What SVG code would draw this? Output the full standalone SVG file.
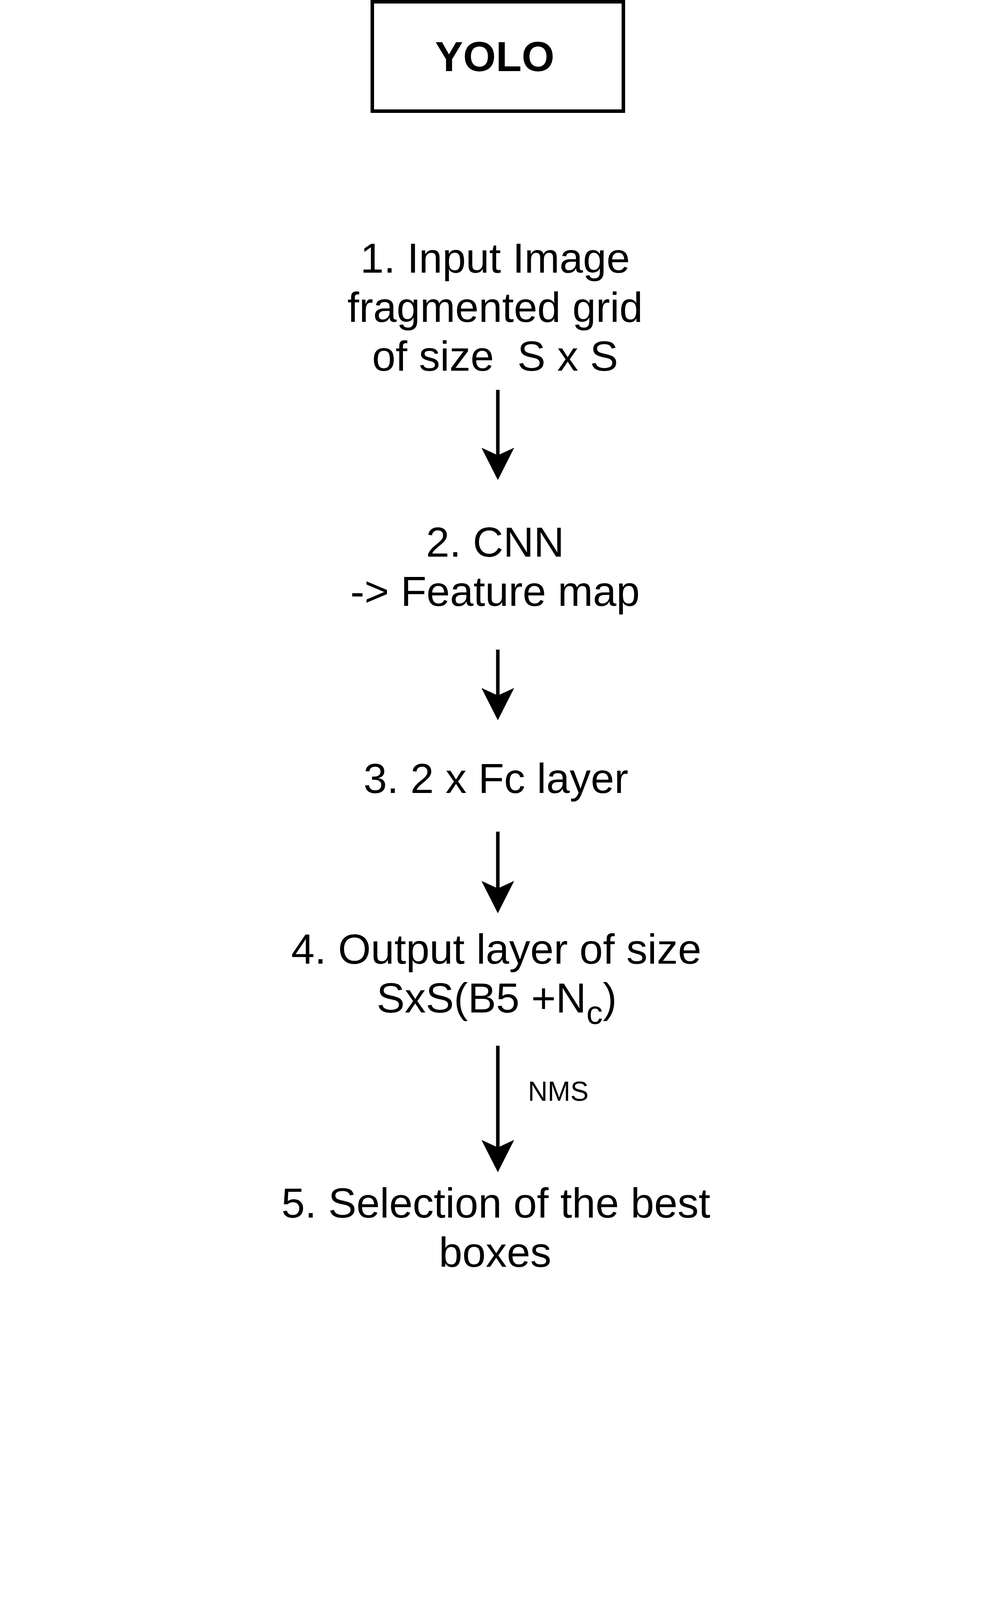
<svg xmlns="http://www.w3.org/2000/svg" width="2556" height="5589" viewBox="0 0 2556 5589">
<style>
.t{font-family:"Liberation Sans",Arial,sans-serif;font-size:108px;fill:#000;text-anchor:middle;white-space:pre}
.b{font-weight:bold}
.lbl{font-family:"Liberation Sans",Arial,sans-serif;font-size:70px;fill:#000;text-anchor:start}
.edge{stroke:#000;stroke-width:9;fill:none}
.box{fill:#fff;stroke:#000;stroke-width:9}
</style>
<defs>
<polygon id="ah" points="0,0 -41,-81 0,-62 41,-81" fill="#000" stroke="#000" stroke-width="1"/>
</defs>
<rect x="0" y="0" width="2556" height="5589" fill="#fff"/>
<g id="connectors">
<line class="edge" x1="1275" y1="998" x2="1275" y2="1175"/>
<use href="#ah" x="1275" y="1228"/>
<line class="edge" x1="1275" y1="1663" x2="1275" y2="1790"/>
<use href="#ah" x="1275" y="1843"/>
<line class="edge" x1="1275" y1="2129" x2="1275" y2="2285"/>
<use href="#ah" x="1275" y="2337"/>
<line class="edge" x1="1275" y1="2677" x2="1275" y2="2948"/>
<use href="#ah" x="1275" y="3000"/>
<text class="lbl" x="1352" y="2818">NMS</text>
</g>
<g id="node-yolo">
<rect class="box" x="953.5" y="4.5" width="643" height="280"/>
<text class="t b" x="1267" y="182">YOLO</text>
</g>
<g id="node-1">
<text class="t" x="1268" y="698">1. Input Image</text>
<text class="t" x="1268" y="824">fragmented grid</text>
<text class="t" x="1268" y="949">of size  S x S</text>
</g>
<g id="node-2">
<text class="t" x="1268" y="1425">2. CNN</text>
<text class="t" x="1268" y="1551">-&gt; Feature map</text>
</g>
<g id="node-3">
<text class="t" x="1270" y="2030">3. 2 x Fc layer</text>
</g>
<g id="node-4">
<text class="t" x="1271" y="2467">4. Output layer of size</text>
<text class="t" x="1272" y="2592">SxS(B5 +N<tspan font-size="84" dy="29">c</tspan><tspan dy="-29">)</tspan></text>
</g>
<g id="node-5">
<text class="t" x="1270" y="3117">5. Selection of the best</text>
<text class="t" x="1268" y="3243">boxes</text>
</g>
</svg>
